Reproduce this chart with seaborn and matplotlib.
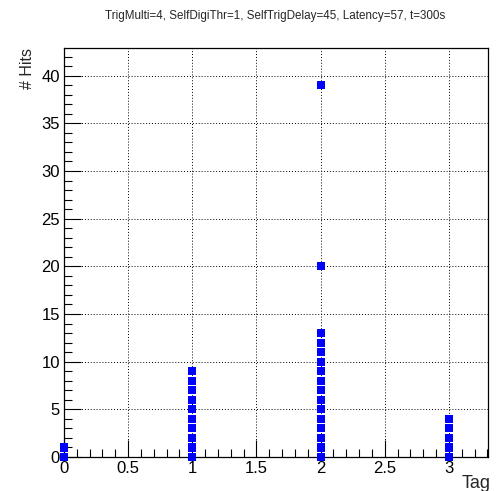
import matplotlib
matplotlib.use("Agg")
import matplotlib.pyplot as plt
import seaborn as sns
import pandas as pd
from matplotlib.ticker import MultipleLocator

# Data (Tag, # Hits)
tag_0_hits = [0, 1]
tag_1_hits = [0, 1, 2, 3, 4, 5, 6, 7, 8, 9]
tag_2_hits = [0, 1, 2, 3, 4, 5, 6, 7, 8, 9, 10, 11, 12, 13, 20, 39]
tag_3_hits = [0, 1, 2, 3, 4]
tags = [0, 1, 2, 3]

rows = []
for t, hs in zip(tags, [tag_0_hits, tag_1_hits, tag_2_hits, tag_3_hits]):
    for h in hs:
        rows.append({"Tag": t, "Hits": h})
df = pd.DataFrame(rows)

sns.set_style("white")
plt.rcParams['font.family'] = ['Liberation Sans', 'DejaVu Sans']

fig = plt.figure(figsize=(4.96, 4.91), dpi=100)
ax = fig.add_axes([64/496, 1-457/491, (488-64)/496, (457-48)/491])

sns.scatterplot(data=df, x="Tag", y="Hits", marker="s", s=34, color="#0000ff",
                edgecolor="none", linewidth=0, ax=ax, clip_on=False, zorder=3)

ax.set_xlim(0, 3.305)
ax.set_ylim(0, 42.9)
ax.xaxis.set_major_locator(MultipleLocator(0.5))
ax.xaxis.set_minor_locator(MultipleLocator(0.1))
ax.yaxis.set_major_locator(MultipleLocator(5))
ax.yaxis.set_minor_locator(MultipleLocator(1))
ax.set_xticks([0, 0.5, 1, 1.5, 2, 2.5, 3])
ax.set_xticklabels(["0", "0.5", "1", "1.5", "2", "2.5", "3"])

ax.tick_params(which="both", direction="in", colors="black", labelsize=12,
               bottom=True, left=True, top=False, right=False, width=0.8)
ax.tick_params(which="major", length=12, pad=3)
ax.tick_params(which="minor", length=6)
ax.grid(True, which="major", linestyle=(0, (1, 2)), color="black", linewidth=0.7)

for sp in ax.spines.values():
    sp.set_color("black")
    sp.set_linewidth(0.9)
    sp.set_visible(True)

ax.set_xlabel("")
ax.set_ylabel("")
fig.text(491/496, 1-492/491, "Tag", ha="right", va="bottom", fontsize=13)
fig.text(27/496, 1-48/491, "# Hits", ha="center", va="top", rotation=90, fontsize=11.5)
fig.text(275/496, 1-16/491, "TrigMulti=4, SelfDigiThr=1, SelfTrigDelay=45, Latency=57, t=300s",
         ha="center", va="center", fontsize=8.4)

fig.savefig("out.png", dpi=100)
